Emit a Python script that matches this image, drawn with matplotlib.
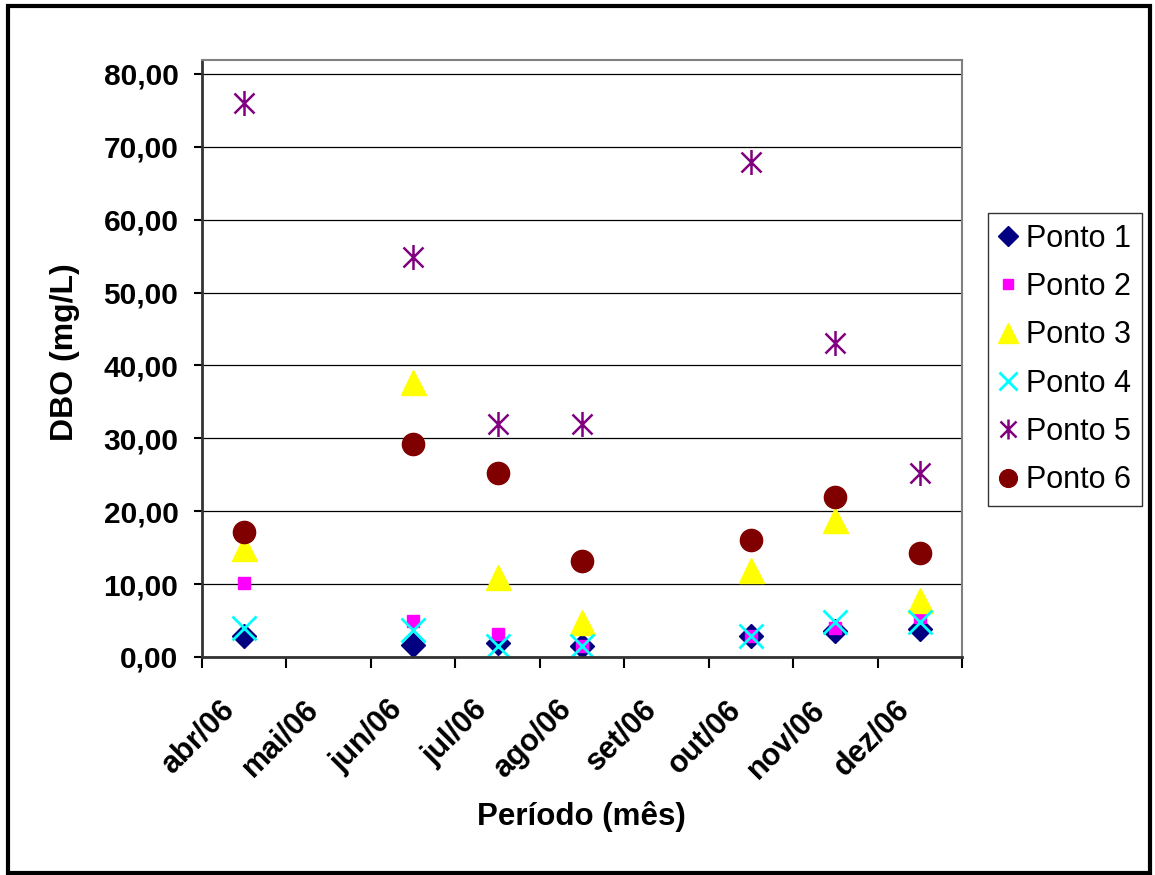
import matplotlib.pyplot as plt
import numpy as np
from matplotlib.path import Path
from matplotlib.patches import Rectangle
from matplotlib.ticker import FuncFormatter, FixedLocator

plt.rcParams['font.family'] = ['Liberation Sans', 'DejaVu Sans']

meses = ['abr/06', 'mai/06', 'jun/06', 'jul/06', 'ago/06', 'set/06', 'out/06', 'nov/06', 'dez/06']
nan = np.nan
ponto1 = [2.9, nan, 1.6, 1.9, 1.5, nan, 2.9, 3.6, 3.8]
ponto2 = [10.2, nan, 5.0, 3.1, 1.5, nan, 2.9, 4.0, 5.5]
ponto3 = [15.0, nan, 37.7, 11.0, 4.8, nan, 12.0, 18.8, 7.8]
ponto4 = [4.0, nan, 3.7, 1.5, 1.5, nan, 2.9, 4.8, 4.8]
ponto5 = [76.0, nan, 54.9, 32.0, 32.0, nan, 67.9, 43.1, 25.2]
ponto6 = [17.1, nan, 29.2, 25.2, 13.2, nan, 16.1, 22.0, 14.2]

# estrela do excel: X + traço vertical
estrela = Path([(-1, -1), (1, 1), (-1, 1), (1, -1), (0, -1.25), (0, 1.25)],
               [Path.MOVETO, Path.LINETO, Path.MOVETO, Path.LINETO, Path.MOVETO, Path.LINETO])

series = [
    ('Ponto 1', ponto1, dict(marker='D', ms=12.5, color='#000080', mec='#000080')),
    ('Ponto 2', ponto2, dict(marker='s', ms=8.5, color='#FF00FF', mec='#FF00FF')),
    ('Ponto 3', ponto3, dict(marker='^', ms=18, color='#FFFF00', mec='#FFFF00')),
    ('Ponto 4', ponto4, dict(marker='x', ms=17, color='#00FFFF', mew=2)),
    ('Ponto 5', ponto5, dict(marker=estrela, ms=18, color='#800080', mew=1.8)),
    ('Ponto 6', ponto6, dict(marker='o', ms=16, color='#800000', mec='#800000')),
]

fig = plt.figure(figsize=(11.55, 8.75), dpi=100)
ax = fig.add_axes([202/1155, 1 - 657/875, 760/1155, 597/875])

x = np.arange(len(meses))
for nome, vals, estilo in series:
    ax.plot(x, vals, linestyle='none', label=nome, **estilo)

ax.set_xlim(-0.5, len(meses) - 0.5)
ax.set_ylim(0, 81.9)
ax.set_yticks(np.arange(0, 81, 10))
ax.yaxis.set_major_formatter(FuncFormatter(lambda v, p: f'{v:.2f}'.replace('.', ',')))
ax.grid(axis='y', color='black', linewidth=0.9)
ax.set_axisbelow(True)

# rótulos um pouco à esquerda do centro da categoria, como no excel
ax.set_xticks(x - 0.3)
ax.set_xticklabels(meses, rotation=45, ha='right', va='top', rotation_mode='anchor',
                   fontsize=22, fontweight='bold')
ax.xaxis.set_minor_locator(FixedLocator(np.arange(-0.5, len(meses), 1)))
ax.tick_params(axis='x', which='major', length=0, pad=27)
ax.tick_params(axis='x', which='minor', length=8, width=1.5, direction='out')
ax.tick_params(axis='y', length=6, width=1.5, labelsize=21.5, pad=11)
for lab in ax.get_yticklabels():
    lab.set_fontweight('bold')

for s in ['top', 'right']:
    ax.spines[s].set_color('#808080')
    ax.spines[s].set_linewidth(1.5)
for s in ['left', 'bottom']:
    ax.spines[s].set_color('#333333')
    ax.spines[s].set_linewidth(2)

ax.set_ylabel('DBO (mg/L)', fontsize=23, fontweight='bold', va='center')
ax.yaxis.set_label_coords((65 - 202) / 760, (657 - 352) / 597)
ax.set_xlabel('Período (mês)', fontsize=22.5, fontweight='bold', va='center')
ax.xaxis.set_label_coords((581 - 202) / 760, (657 - 817) / 597)

leg = fig.legend(loc='upper left', bbox_to_anchor=(988/1155, 1 - 213/875),
                 fontsize=22, frameon=True, fancybox=False, edgecolor='black',
                 handlelength=0.6, handletextpad=0.3, labelspacing=0.6,
                 borderpad=0.35, borderaxespad=0, markerscale=0.8)
leg.get_frame().set_linewidth(1)

fig.patches.append(Rectangle((8/1155, 1 - 873/875), 1142/1155, 867/875,
                             transform=fig.transFigure, fill=False,
                             edgecolor='black', linewidth=3))

fig.savefig('out.png', dpi=100)
